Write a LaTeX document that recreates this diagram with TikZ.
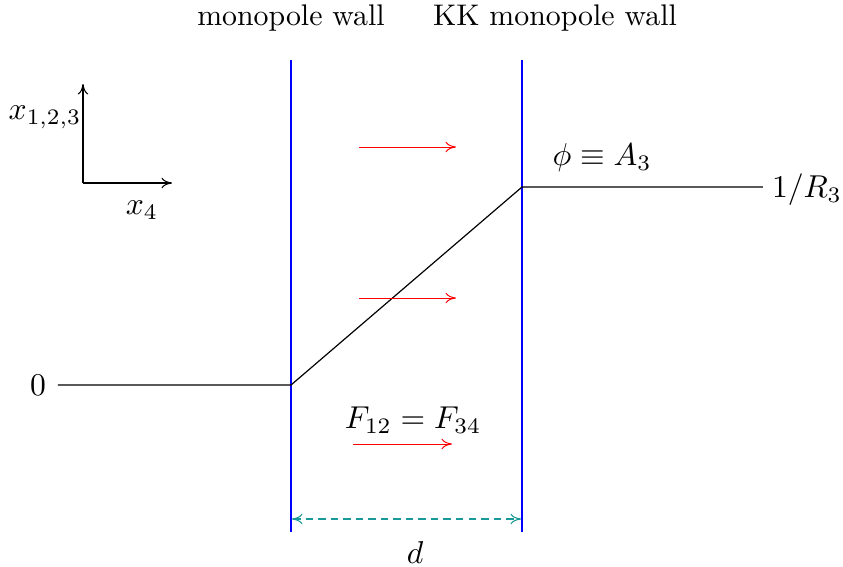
\documentclass[tikz,border=0pt]{standalone}
\usetikzlibrary{arrows.meta}
\definecolor{sepcol}{rgb}{0.1,0.6,0.6}
\begin{document}
\begin{tikzpicture}[x=0.335pt,y=-0.335pt,
  wall/.style={blue,line width=0.6pt},
  prof/.style={black,line width=0.4pt},
  field/.style={red,line width=0.32pt,-{To[length=3.5pt,width=3.5pt]}},
  axis/.style={black,line width=0.35pt,-{To[length=3.5pt,width=3.5pt]}},
  sep/.style={sepcol,line width=0.35pt,dash pattern=on 2.5pt off 1.7pt,{To[length=3.5pt,width=3.5pt]}-{To[length=3.5pt,width=3.5pt]}},
  lbl/.style={inner sep=0pt},
  mlbl/.style={inner sep=0pt,scale=1.06}]
\useasboundingbox (0,0) rectangle (843,567);
% walls
\coordinate (w1t) at (291,60); \coordinate (w1b) at (291,532);
\coordinate (w2t) at (522,60); \coordinate (w2b) at (522,532);
\draw[wall] (w1t) -- (w1b);
\draw[wall] (w2t) -- (w2b);
\node[lbl] (lw1) at (291,18) {monopole wall};
\node[lbl] (lw2) at (555,18) {KK monopole wall};
% profile
\coordinate (p0) at (58,385); \coordinate (p1) at (291,385);
\coordinate (p2) at (522,187); \coordinate (p3) at (763,187);
\draw[prof] (p0) -- (p1) -- (p2) -- (p3);
\node[mlbl] (zero) at (38,385) {$0$};
\node[mlbl] (inv) at (807,190) {$1/R_3$};
\node[mlbl] (phi) at (602,158) {$\phi\equiv A_3$};
% field arrows
\coordinate (a1s) at (359,147); \coordinate (a1e) at (456,147);
\coordinate (a2s) at (359,298); \coordinate (a2e) at (456,298);
\coordinate (a3s) at (353,444); \coordinate (a3e) at (452,444);
\draw[field] (a1s) -- (a1e);
\draw[field] (a2s) -- (a2e);
\draw[field] (a3s) -- (a3e);
\node[mlbl] (F) at (413,420) {$F_{12}=F_{34}$};
% separation
\coordinate (ds) at (292,519); \coordinate (de) at (521,519);
\draw[sep] (ds) -- (de);
\node[mlbl] (d) at (415,553) {$d$};
% axes
\coordinate (o) at (83,183); \coordinate (ay) at (83,84); \coordinate (ax) at (172,183);
\draw[axis] (o) -- (ay);
\draw[axis] (o) -- (ax);
\node[mlbl] (xy) at (45,117) {$x_{1,2,3}$};
\node[mlbl] (xx) at (142,210) {$x_4$};
\end{tikzpicture}
\end{document}
